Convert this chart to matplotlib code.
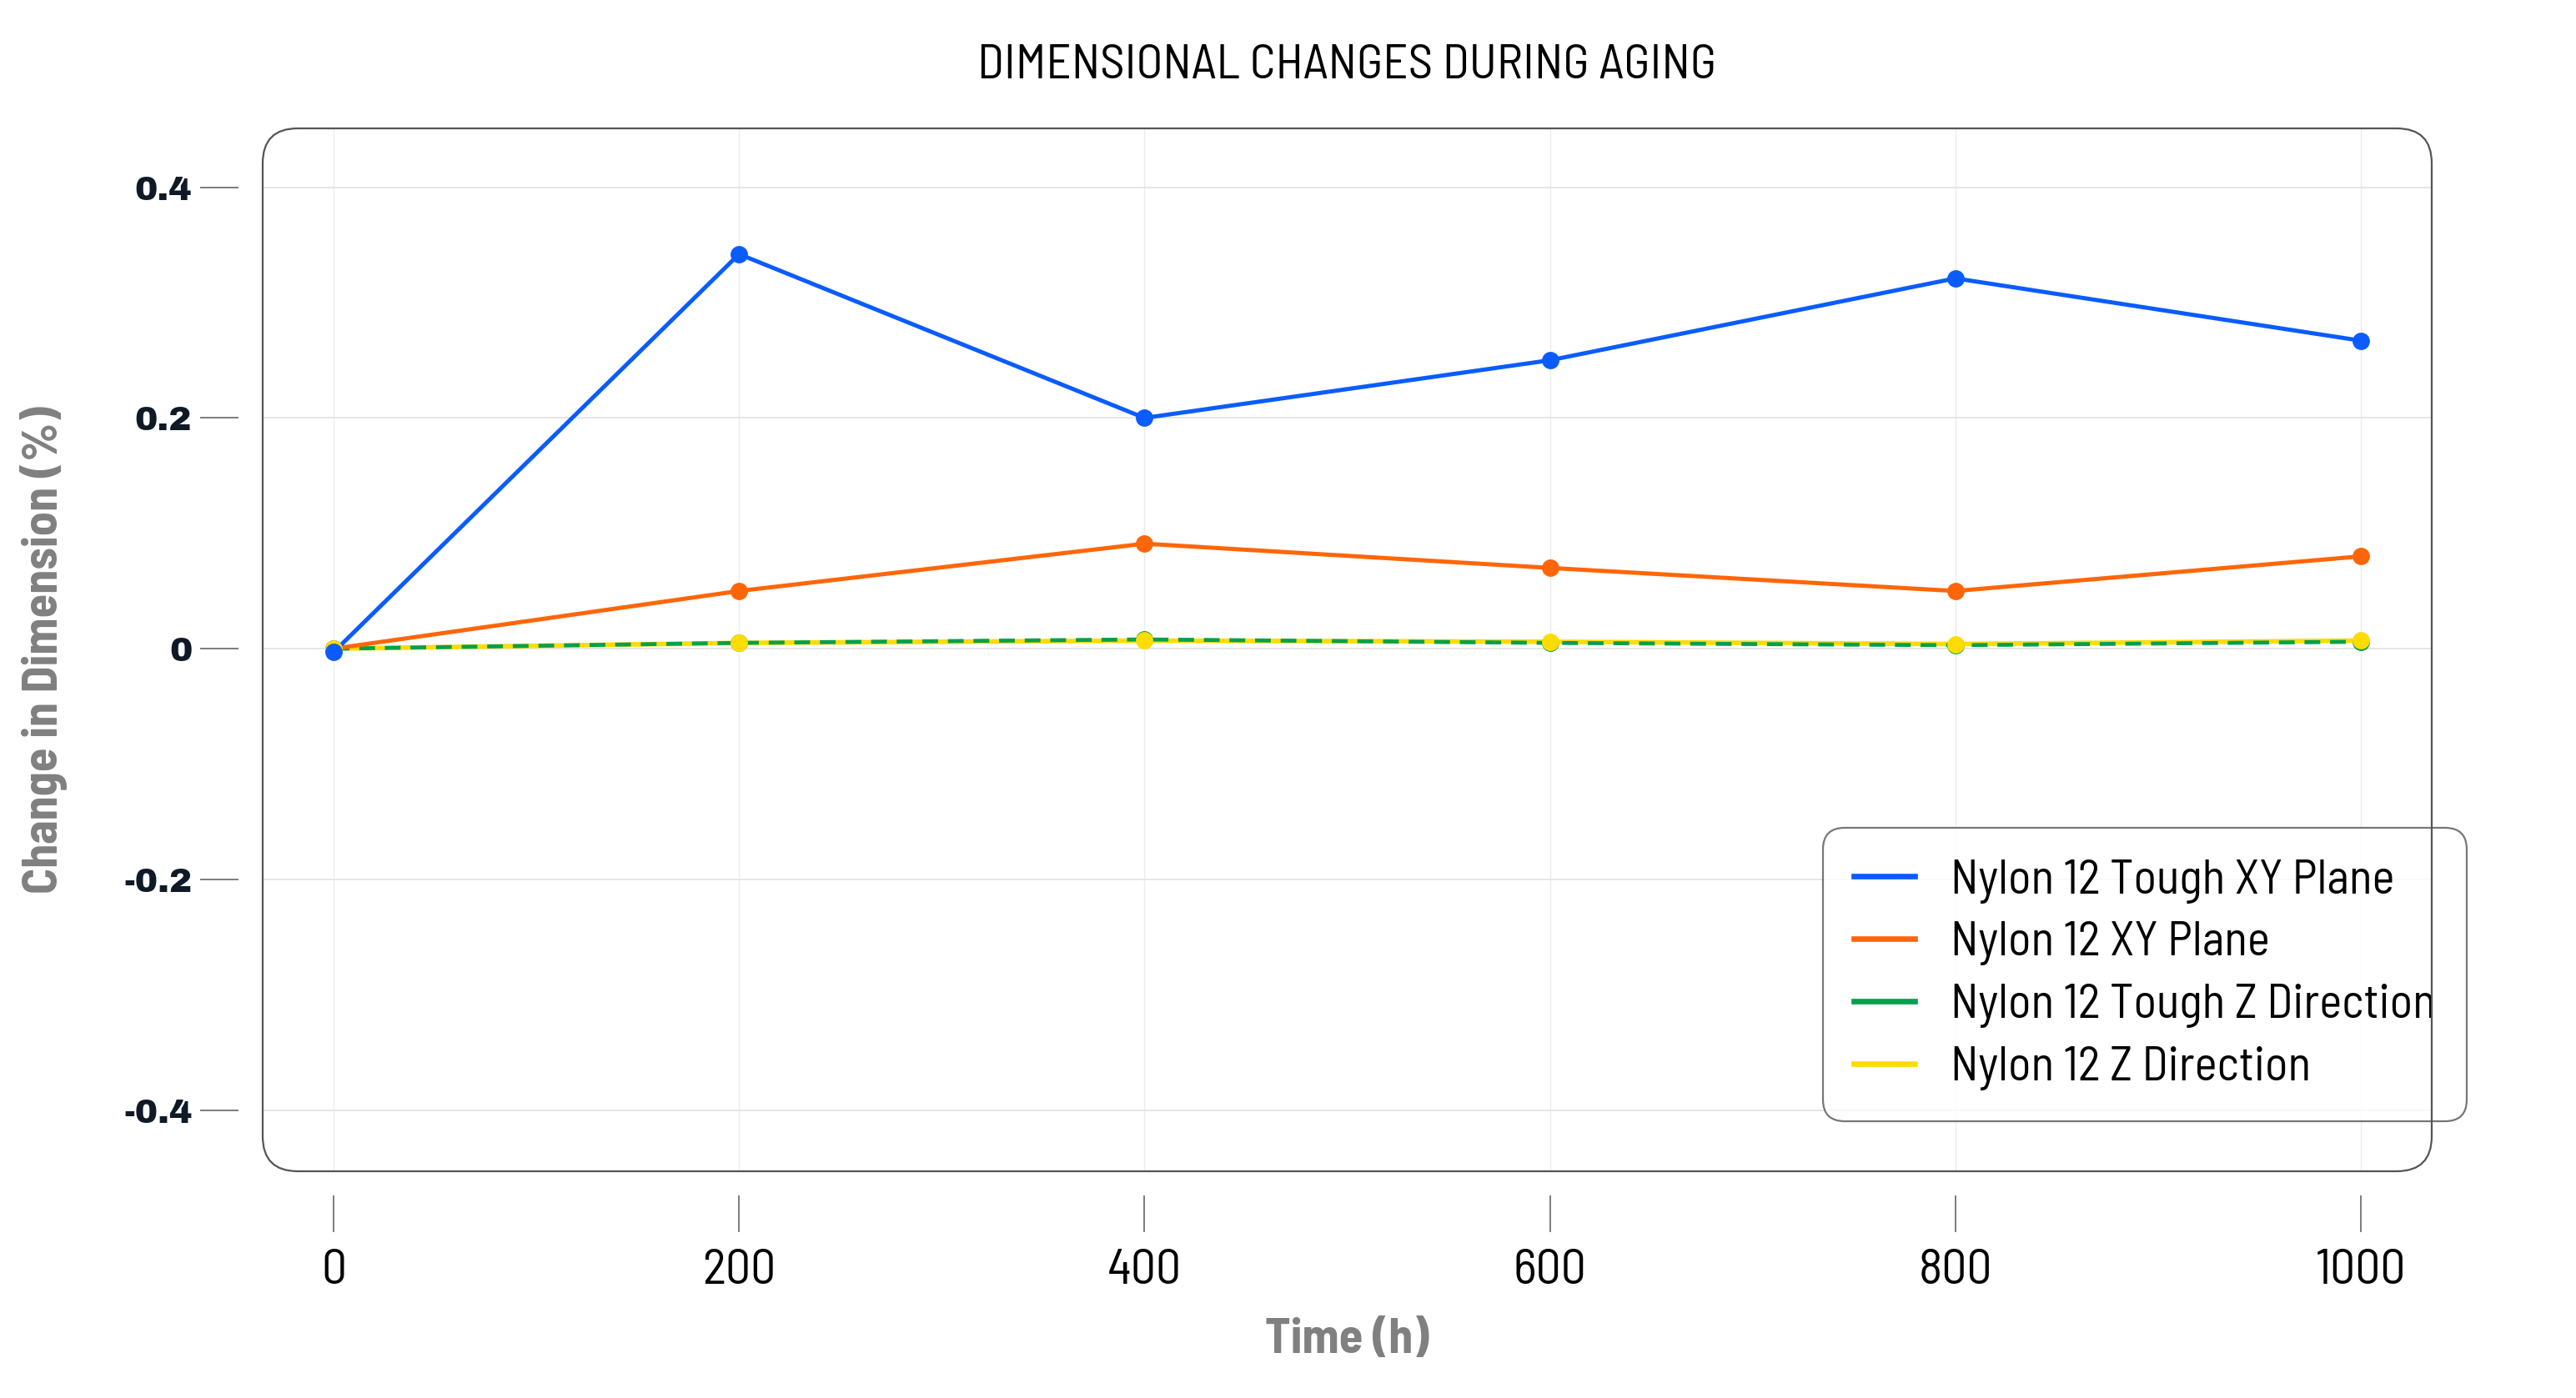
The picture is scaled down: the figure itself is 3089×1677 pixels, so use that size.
import matplotlib
matplotlib.use("Agg")
import matplotlib.pyplot as plt
from matplotlib.patches import FancyBboxPatch
from matplotlib.lines import Line2D
from matplotlib.transforms import IdentityTransform

# data
hours = [0, 200, 400, 600, 800, 1000]
tough_xy = [-0.003, 0.342, 0.200, 0.250, 0.321, 0.267]
nylon_xy = [0.000, 0.050, 0.091, 0.070, 0.050, 0.080]
tough_z = [0.000, 0.005, 0.008, 0.005, 0.003, 0.006]
nylon_z = [0.000, 0.005, 0.007, 0.006, 0.004, 0.007]

series_names = ["Nylon 12 Tough XY Plane", "Nylon 12 XY Plane",
                "Nylon 12 Tough Z Direction", "Nylon 12 Z Direction"]
y_ticks = [-0.4, -0.2, 0, 0.2, 0.4]
y_tick_labels = ["-0.4", "-0.2", "0", "0.2", "0.4"]

BLUE = "#0a5cff"
ORANGE = "#ff6608"
GREEN = "#00a04c"
YELLOW = "#ffdc00"

NARROW = ["Barlow Semi Condensed", "DejaVu Sans"]
WIDE = ["Archivo Black", "DejaVu Sans"]

W, H, DPI = 3089, 1677, 200
fig = plt.figure(figsize=(W / DPI, H / DPI), dpi=DPI)

# plot box in pixels
left, right, top, bottom = 315, 2916, 154, 1405
ax = fig.add_axes([left / W, (H - bottom) / H, (right - left) / W, (bottom - top) / H])
ax.set_xlim(-35, 1035)
ax.set_ylim(-0.453, 0.451)

for s in ax.spines.values():
    s.set_visible(False)
ax.spines["left"].set_position(("outward", 10.5))
ax.spines["bottom"].set_position(("outward", 10.5))

ax.grid(True, axis="y", color="#e6e6e6", lw=0.7)
ax.grid(True, axis="x", color="#ececec", lw=0.5)
ax.set_axisbelow(True)

ax.plot(hours, tough_xy, color=BLUE, lw=1.8, zorder=4)
ax.plot(hours, nylon_xy, color=ORANGE, lw=1.8, zorder=3)
ax.plot(hours, nylon_z, color=YELLOW, lw=2.0, zorder=2)
ax.plot(hours, tough_z, color=GREEN, lw=1.7, ls=(0, (4, 2.5)), zorder=2.5)

ax.plot(hours, nylon_xy, "o", color=ORANGE, ms=6.5, zorder=5)
ax.plot(hours, tough_z, "o", color=GREEN, ms=6.5, zorder=5)
ax.plot(hours, nylon_z, "o", color=YELLOW, ms=6.5, zorder=5.5)
ax.plot(hours, tough_xy, "o", color=BLUE, ms=6.5, zorder=6)

ax.set_xticks(hours)
ax.set_xticklabels([str(h) for h in hours], family=NARROW, fontsize=21.5, color="black")
ax.set_yticks(y_ticks)
ax.set_yticklabels(y_tick_labels, family=WIDE, fontsize=14.8, color="#0f1a26")
ax.tick_params(axis="y", length=16.5, width=0.6, color="#666666", pad=3.5)
ax.tick_params(axis="x", length=16, width=0.6, color="#666666", pad=7)

fig.text((left + right) / 2 / W, 1 - 1608 / H, "Time (h)", family=NARROW,
         fontsize=21, fontweight="bold", color="#808080", ha="center", va="center")
fig.text(53 / W, 1 - (top + bottom) / 2 / H, "Change in Dimension (%)", family=NARROW,
         fontsize=21, fontweight="bold", color="#808080", rotation=90,
         ha="center", va="center")

fig.text(0.523, 1 - 80 / H, "DIMENSIONAL CHANGES DURING AGING", family=NARROW,
         fontsize=21.2, ha="center", va="center", color="black")

# rounded frame around the plot area
box = FancyBboxPatch((left, H - bottom), right - left, bottom - top,
                     boxstyle="round,pad=0,rounding_size=42",
                     transform=IdentityTransform(), fill=False,
                     ec="#555555", lw=0.8, zorder=10)
fig.patches.append(box)

handles = [Line2D([], [], color=c, lw=2.4) for c in (BLUE, ORANGE, GREEN, YELLOW)]
leg = ax.legend(handles, series_names, loc="lower right",
                bbox_to_anchor=(1.016, 0.048), prop={"family": NARROW, "size": 20.6},
                frameon=True, fancybox=True, handlelength=1.28, handletextpad=0.74,
                labelspacing=0.38, borderpad=0.65, borderaxespad=0)
frame = leg.get_frame()
frame.set_edgecolor("#555555")
frame.set_linewidth(0.8)
frame.set_boxstyle("round", pad=0, rounding_size=0.45)
leg.set_zorder(12)

fig.savefig("out.png", dpi=DPI)
